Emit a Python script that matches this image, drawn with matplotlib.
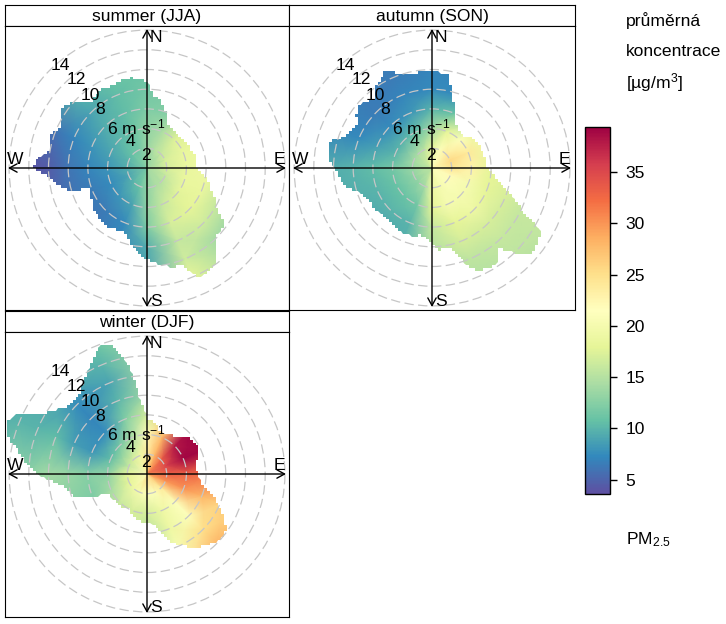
import numpy as np
import matplotlib
matplotlib.use("Agg")
import matplotlib.pyplot as plt
from matplotlib.colors import LinearSegmentedColormap, Normalize
from matplotlib.patches import Polygon, Circle
from matplotlib.cm import ScalarMappable

plt.rcParams['font.family'] = ['Liberation Sans', 'DejaVu Sans']
plt.rcParams['mathtext.fontset'] = 'custom'
plt.rcParams['mathtext.rm'] = 'Liberation Sans'
plt.rcParams['mathtext.default'] = 'regular'

titles = ["summer (JJA)", "autumn (SON)", "winter (DJF)"]
compass = ["N", "E", "S", "W"]
rings = [2, 4, 6, 8, 10, 12, 14]
ticks = [5, 10, 15, 20, 25, 30, 35]
vmin, vmax = 3.6, 39.4
palette = ["#5E4FA2", "#3288BD", "#66C2A5", "#ABDDA4", "#E6F598", "#FFFFBF",
           "#FEE08B", "#FDAE61", "#F46D43", "#D53E4F", "#9E0142"]

# wind speed of the table columns, bearing of the table rows
speeds = [0, 2, 4, 6, 8, 10, 12, 14, 16]
bearings = [0, 22.5, 45, 67.5, 90, 112.5, 135, 157.5, 180, 202.5, 225, 247.5,
            270, 292.5, 315, 337.5]

summer = [
    [13, 13.5, 13, 12, 11.5, 11, 11, 11, 11],
    [13, 15, 14.5, 12.5, 12, 12, 12, 12, 12],
    [13, 16, 17.5, 17.5, 17, 17, 17, 17, 17],
    [13, 17, 18.5, 18.5, 18, 18, 18, 18, 18],
    [13.5, 17, 18.5, 19, 18, 18, 18, 18, 18],
    [14, 16, 18.5, 18.5, 16, 14, 14, 14, 14],
    [14, 15, 17.5, 18, 16.5, 14, 14, 14, 14],
    [14, 14.5, 16, 17, 16, 16.5, 18, 18, 18],
    [13, 13, 13, 12, 9.5, 9, 9, 9, 9],
    [12, 11, 9, 7.5, 7, 7, 7, 7, 7],
    [12, 10, 8, 6.5, 6, 6, 6, 6, 6],
    [12, 9, 7.5, 6.5, 6, 5.5, 5.5, 5.5, 5.5],
    [12, 9.5, 8, 7, 6, 4.5, 4, 4, 4],
    [12.5, 10, 9, 8, 7, 6, 6, 6, 6],
    [12.5, 11, 10, 9.5, 9, 9.5, 9.5, 9.5, 9.5],
    [13, 11.5, 11, 10.5, 10.5, 11, 11, 11, 11],
]
autumn = [
    [20, 18, 14, 10, 7.5, 7, 7, 7, 7],
    [21, 21, 18, 11, 7.5, 7, 7, 7, 7],
    [21, 23.5, 21, 18, 18, 18, 18, 18, 18],
    [21, 25.5, 24, 19, 19, 19, 19, 19, 19],
    [21, 24.5, 23, 18, 18, 18, 18, 18, 18],
    [21, 22, 20, 18, 17, 16, 16, 16, 16],
    [21, 21, 20, 19, 17, 16, 15.5, 15, 15],
    [21, 20, 20, 18, 17, 15.5, 15, 15, 15],
    [19, 19, 18, 16, 15, 15, 15, 15, 15],
    [17, 14, 11.5, 10, 9.5, 9.5, 9.5, 9.5, 9.5],
    [16, 13, 11, 10, 9, 9, 9, 9, 9],
    [16, 13, 11, 10, 9.5, 9.5, 9.5, 9.5, 9.5],
    [16, 13.5, 11.5, 10.5, 10, 9.5, 9.5, 9.5, 9.5],
    [16, 14, 10, 8.5, 7.5, 7, 7, 7, 7],
    [17, 14.5, 10, 7.5, 6.5, 6.5, 6.5, 6.5, 6.5],
    [18, 15.5, 11, 8, 7, 6.5, 6.5, 6.5, 6.5],
]
winter = [
    [25, 24, 22, 17, 14, 14, 14, 14, 14],
    [28, 28, 28, 24, 24, 24, 24, 24, 24],
    [30, 33, 38, 39, 39, 39, 39, 39, 39],
    [31, 35, 39, 39, 39, 39, 39, 39, 39],
    [30, 33, 33, 32, 32, 32, 32, 32, 32],
    [29, 30, 30, 28, 26, 26, 26, 26, 26],
    [27, 24, 21, 21, 25, 28, 28, 28, 28],
    [26, 21, 19, 19, 20, 22, 22, 22, 22],
    [26, 21, 17, 15, 15, 15, 15, 15, 15],
    [25, 20, 17, 17, 17, 17, 17, 17, 17],
    [22, 19, 16, 16, 16, 16, 16, 16, 16],
    [22, 18, 14, 12, 12.5, 12.5, 12.5, 12.5, 12.5],
    [22, 18, 13, 12.5, 13.5, 14, 13, 13, 12],
    [22, 16, 10.5, 8, 8.5, 10.5, 10, 10, 9.5],
    [22, 17, 11.5, 7.5, 7, 7.5, 9, 9, 9],
    [23, 19, 14.5, 12, 10, 9, 10, 11, 11],
]

# outer edge of the coloured surface (m/s), every 5 degrees from north
edge_summer = [8.8, 7.3, 7.2, 6.4, 5.8, 5.0, 4.7, 4.6, 4.7, 4.7, 4.7, 4.7,
               4.7, 4.8, 4.9, 5.0, 5.0, 5.0, 4.9, 5.5, 6.2, 6.5, 7.0, 7.6,
               8.2, 9.5, 9.9, 9.8, 10.6, 11.9, 12.3, 12.2, 10.5, 10.4, 10.1, 9.7,
               9.3, 8.8, 8.1, 7.4, 6.9, 7.0, 7.0, 7.2, 7.1, 7.0, 6.9, 6.9,
               6.5, 6.3, 6.1, 8.4, 9.3, 10.0, 11.6, 11.1, 10.1, 10.2, 10.4, 9.6,
               10.0, 10.5, 10.2, 9.4, 8.8, 9.0, 9.2, 9.1, 9.2, 9.3, 9.3, 9.0]
edge_autumn = [10.0, 9.7, 9.7, 7.6, 6.6, 5.2, 5.0, 4.7, 4.6, 4.7, 4.9, 5.1,
               5.3, 5.4, 5.4, 5.5, 5.5, 5.6, 5.6, 6.1, 6.7, 7.6, 8.7, 10.0,
               12.6, 13.2, 13.3, 12.2, 10.6, 11.7, 11.7, 11.5, 10.6, 8.6, 8.3, 8.3,
               7.6, 7.0, 6.9, 7.1, 7.2, 7.2, 7.2, 7.0, 6.8, 6.9, 7.0, 7.2,
               7.0, 7.3, 7.5, 8.4, 9.2, 9.5, 9.9, 10.6, 10.7, 10.6, 9.3, 9.0,
               8.7, 9.4, 9.8, 9.5, 9.2, 10.0, 10.4, 11.0, 10.2, 9.8, 9.8, 10.0]
edge_winter = [5.7, 5.4, 5.2, 4.7, 4.5, 4.5, 4.6, 4.7, 5.0, 5.3, 5.6, 5.8,
               5.9, 5.8, 5.5, 5.2, 4.9, 5.0, 5.2, 5.4, 5.7, 6.4, 7.3, 8.2,
               9.1, 9.8, 10.0, 9.8, 9.4, 9.1, 8.6, 8.0, 7.3, 6.3, 5.4, 5.1,
               4.9, 4.9, 4.8, 4.6, 4.4, 4.1, 3.9, 4.1, 4.3, 4.3, 4.3, 4.4,
               4.3, 5.0, 7.2, 8.0, 8.2, 9.3, 11.2, 12.2, 13.2, 14.6, 15.2, 14.6,
               12.2, 11.3, 10.6, 10.5, 10.6, 11.2, 12.0, 13.0, 13.8, 13.4, 11.3, 7.5]

W, H = 726, 624
PX = 9.85  # pixels per m/s
FS = 12.6


def px_axes(x0, y0, x1, y1):
    return fig.add_axes([x0 / W, 1 - y1 / H, (x1 - x0) / W, (y1 - y0) / H])


cmap = LinearSegmentedColormap.from_list("spectral_rev", palette)
norm = Normalize(vmin, vmax)
fig = plt.figure(figsize=(W / 100, H / 100), dpi=100)


def panel(box, cx, cy, title, table, edge):
    x0, y0, x1, y1, strip = box
    st = px_axes(x0, strip, x1, y0)
    st.set_xticks([]); st.set_yticks([])
    st.text(0.5, 0.47, title, ha='center', va='center', fontsize=FS, transform=st.transAxes)
    ax = px_axes(x0, y0, x1, y1)
    ax.set_xlim((x0 - cx) / PX, (x1 - cx) / PX)
    ax.set_ylim((cy - y1) / PX, (cy - y0) / PX)
    ax.set_xticks([]); ax.set_yticks([])

    th = np.radians(list(bearings) + [360])
    rr = np.array(speeds, float)
    T, R = np.meshgrid(th, rr, indexing='ij')
    C = np.array(table + [table[0]], float)
    mesh = ax.pcolormesh(R * np.sin(T), R * np.cos(T), C, shading='gouraud',
                         cmap=cmap, norm=norm, zorder=1)
    ax.set_xlim((x0 - cx) / PX, (x1 - cx) / PX)
    ax.set_ylim((cy - y1) / PX, (cy - y0) / PX)
    fine = np.radians(np.arange(0, 360, 0.25))
    coarse = np.radians(np.arange(0, 365, 5))
    rb = np.interp(fine, coarse, list(edge) + [edge[0]])
    step = 0.29
    xb = np.round(rb * np.sin(fine) / step) * step
    yb = np.round(rb * np.cos(fine) / step) * step
    clip = Polygon(np.column_stack([xb, yb]), closed=True, transform=ax.transData)
    mesh.set_clip_path(clip)

    for r in rings:
        ax.add_patch(Circle((0, 0), r, fill=False, ec='#c6c6c6', lw=0.9,
                            ls=(0, (7.5, 3.5)), zorder=2))
    L = 139 / PX
    for a, b in [((-L, 0), (L, 0)), ((0, -L), (0, L))]:
        ax.annotate('', xy=b, xytext=a, zorder=3,
                    arrowprops=dict(arrowstyle='<->,head_length=0.55,head_width=0.3',
                                    lw=1.0, color='k', shrinkA=0, shrinkB=0))
    for name, (dx, dy) in zip(compass, [(9, 131), (132, 9), (9, -133), (-132, 9)]):
        ax.text(dx / PX, dy / PX, name, ha='center', va='center', fontsize=FS, zorder=4)
    for lab, (dx, dy) in zip(["14", "12", "10", "8", "6 m s$^{-1}$", "4", "2"],
                             [(-87, 103), (-71, 88), (-57, 73), (-47, 58),
                              (-11, 41), (-17, 27), (-1, 12)]):
        ax.text(dx / PX, dy / PX, lab, ha='center', va='center', fontsize=FS, zorder=4)


panel((5, 26, 289, 310, 5), 147, 168, titles[0], summer, edge_summer)
panel((289, 26, 575, 310, 5), 432, 168, titles[1], autumn, edge_autumn)
panel((5, 332, 289, 617, 311), 147, 474, titles[2], winter, edge_winter)

cax = px_axes(585, 127, 610, 494)
cb = fig.colorbar(ScalarMappable(norm=norm, cmap=cmap), cax=cax, ticks=ticks)
cb.ax.tick_params(length=5, width=1, labelsize=FS, pad=6)
cb.outline.set_linewidth(1)

for s, y in [("průměrná", 21), ("koncentrace", 51), ("[µg/m$^{3}$]", 83)]:
    fig.text(626 / W, 1 - y / H, s, ha='left', va='center', fontsize=FS)
fig.text(626 / W, 1 - 540 / H, "PM$_{2.5}$", ha='left', va='center', fontsize=FS)

fig.savefig("out.png", dpi=100)
